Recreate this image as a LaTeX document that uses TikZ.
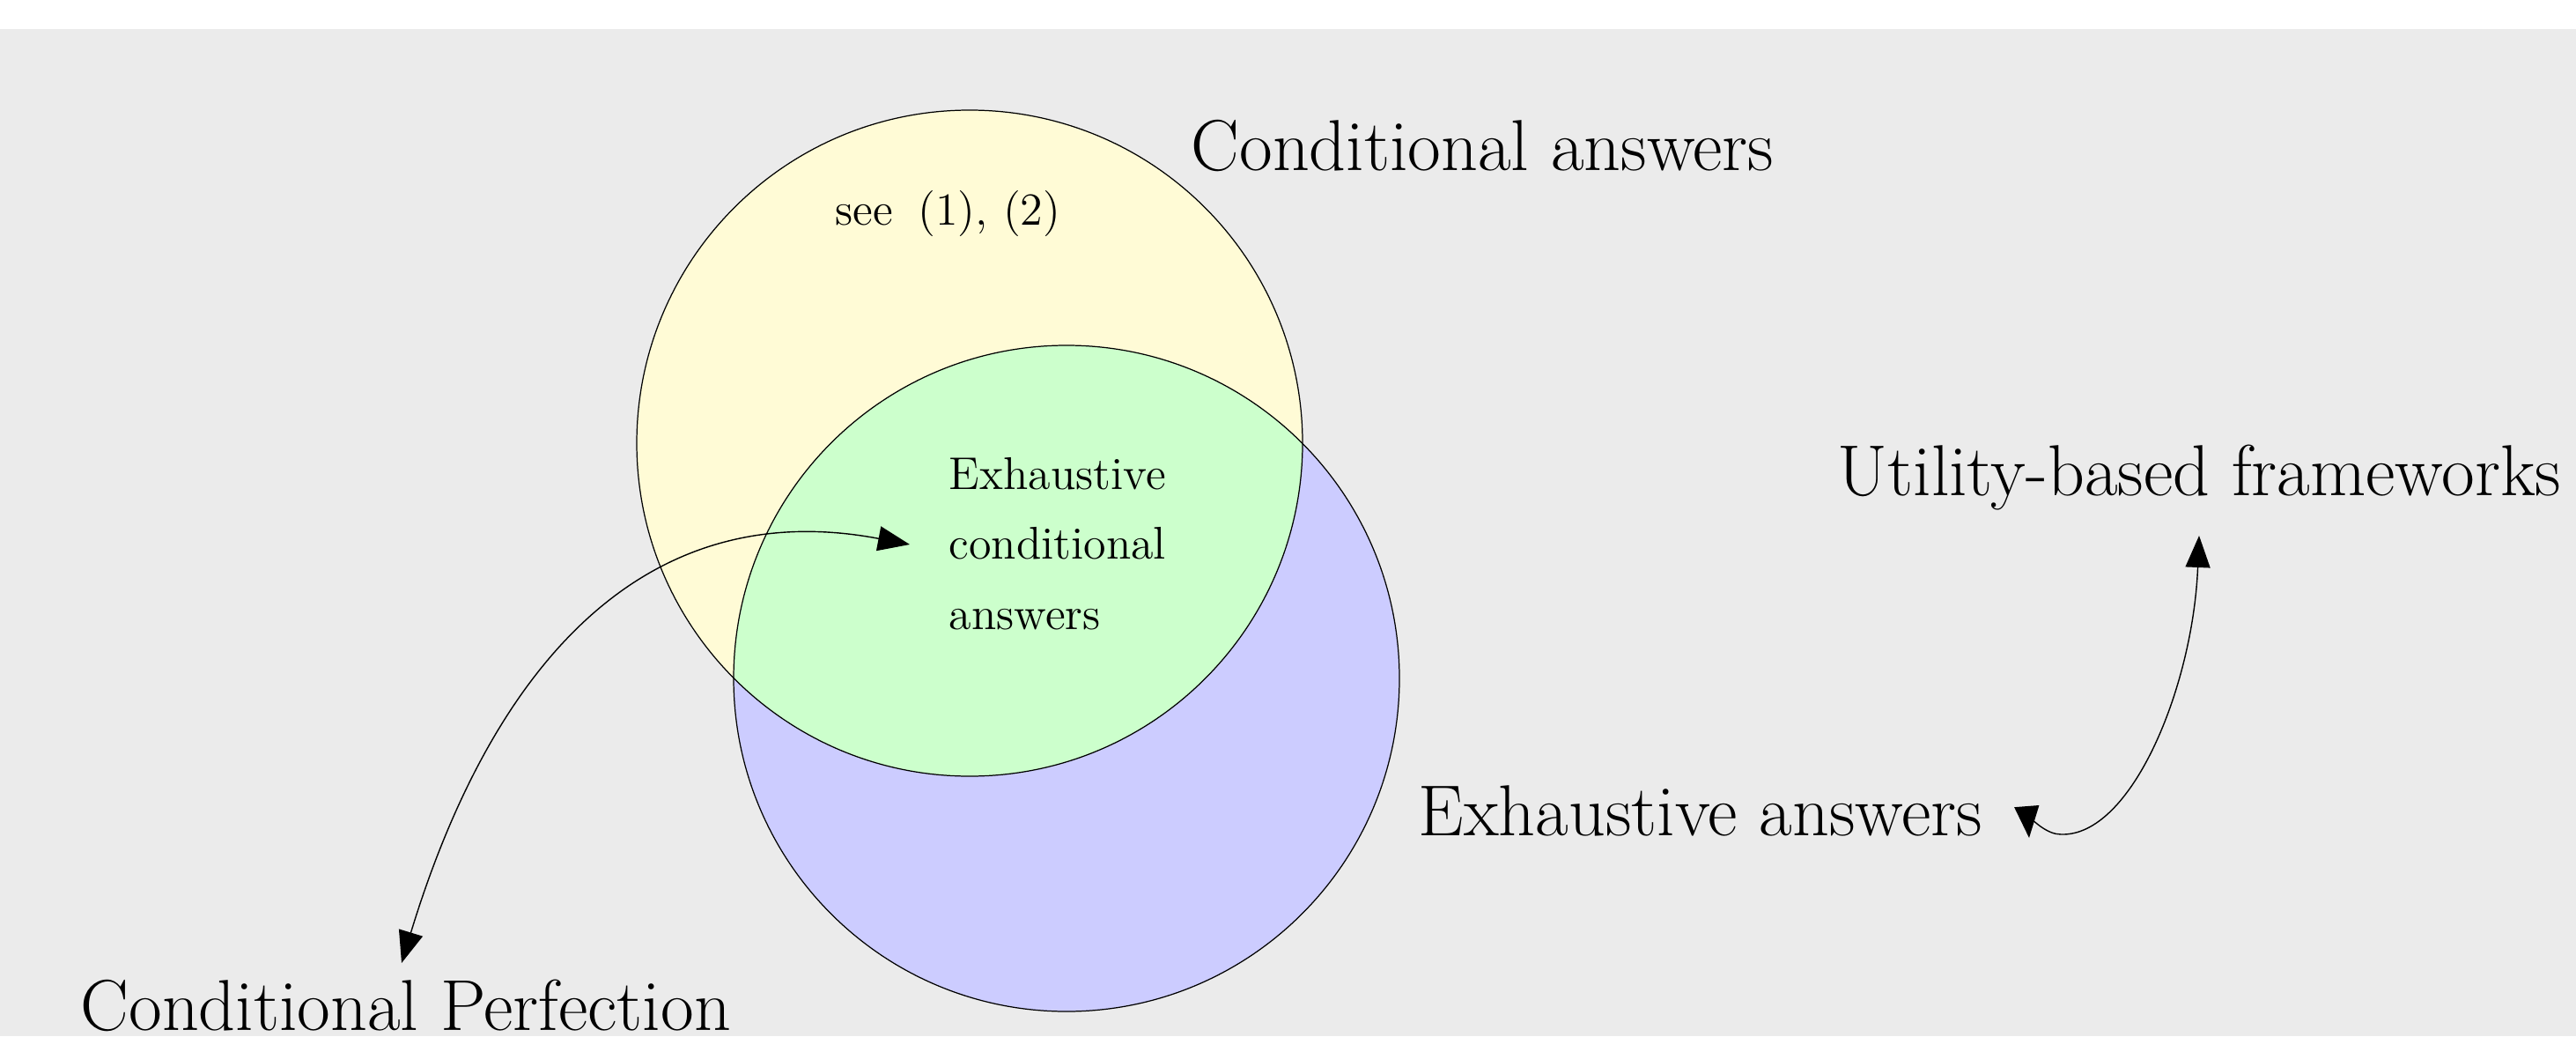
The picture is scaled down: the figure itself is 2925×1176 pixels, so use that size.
\documentclass[tikz,border=0pt]{standalone}
\usepackage{fontspec}
\usetikzlibrary{arrows.meta}
\definecolor{bggray}{RGB}{235,235,235}
\definecolor{condyellow}{RGB}{255,251,214}
\definecolor{exhblue}{RGB}{204,204,255}
\definecolor{bothgreen}{RGB}{204,255,204}
\begin{document}
\begin{tikzpicture}[x=0.01cm,y=-0.01cm,
  bigtext/.style={font=\fontsize{23.3}{27}\selectfont, inner sep=0pt, anchor=base west},
  smalltext/.style={font=\fontsize{14.8}{22.5}\selectfont, inner sep=0pt},
  setline/.style={line width=0.35pt},
  link/.style={line width=0.4pt, line join=round,
    {Triangle[length=0.36cm,width=0.28cm]}-{Triangle[length=0.36cm,width=0.28cm]}}]
\useasboundingbox (0,0) rectangle (2925,1176);
\fill[white] (0,0) rectangle (2925,1176);
\fill[bggray] (0,33) rectangle (2925,1176);
% Venn circles
\coordinate (condc) at (1101,503);
\coordinate (exhc) at (1211,770);
\fill[condyellow] (condc) circle[radius=378];
\fill[exhblue] (exhc) circle[radius=378];
\begin{scope}
  \clip (condc) circle[radius=378];
  \fill[bothgreen] (exhc) circle[radius=378];
\end{scope}
\draw[setline] (condc) circle[radius=378];
\draw[setline] (exhc) circle[radius=378];
% texts
\node[bigtext] (condans) at (1352,193) {Conditional answers};
\node[smalltext, anchor=base west] (see) at (948,255) {see\hspace{8pt}(1),\hspace{5pt}(2)};
\node[smalltext, align=left, anchor=north west] (exhcond) at (1077,519) {Exhaustive\\conditional\\answers};
\node[bigtext] (util) at (2086,562) {Utility-based frameworks};
\node[bigtext] (exhans) at (1610,948) {Exhaustive answers};
\node[bigtext] (condperf) at (91,1169) {Conditional Perfection};
% arrow end points
\coordinate (cpTip) at (456,1093);
\coordinate (ecTip) at (1033,618);
\coordinate (ufTip) at (2497,608);
\coordinate (eaTip) at (2304,951);
\draw[link] (cpTip) .. controls (560,752) and (733,561) .. (ecTip);
\draw[link] (ufTip) .. controls (2490,780) and (2420,950) .. (2340,947)
  .. controls (2325,947) and (2310,933) .. (2302,925) -- (eaTip);
\end{tikzpicture}
\end{document}
